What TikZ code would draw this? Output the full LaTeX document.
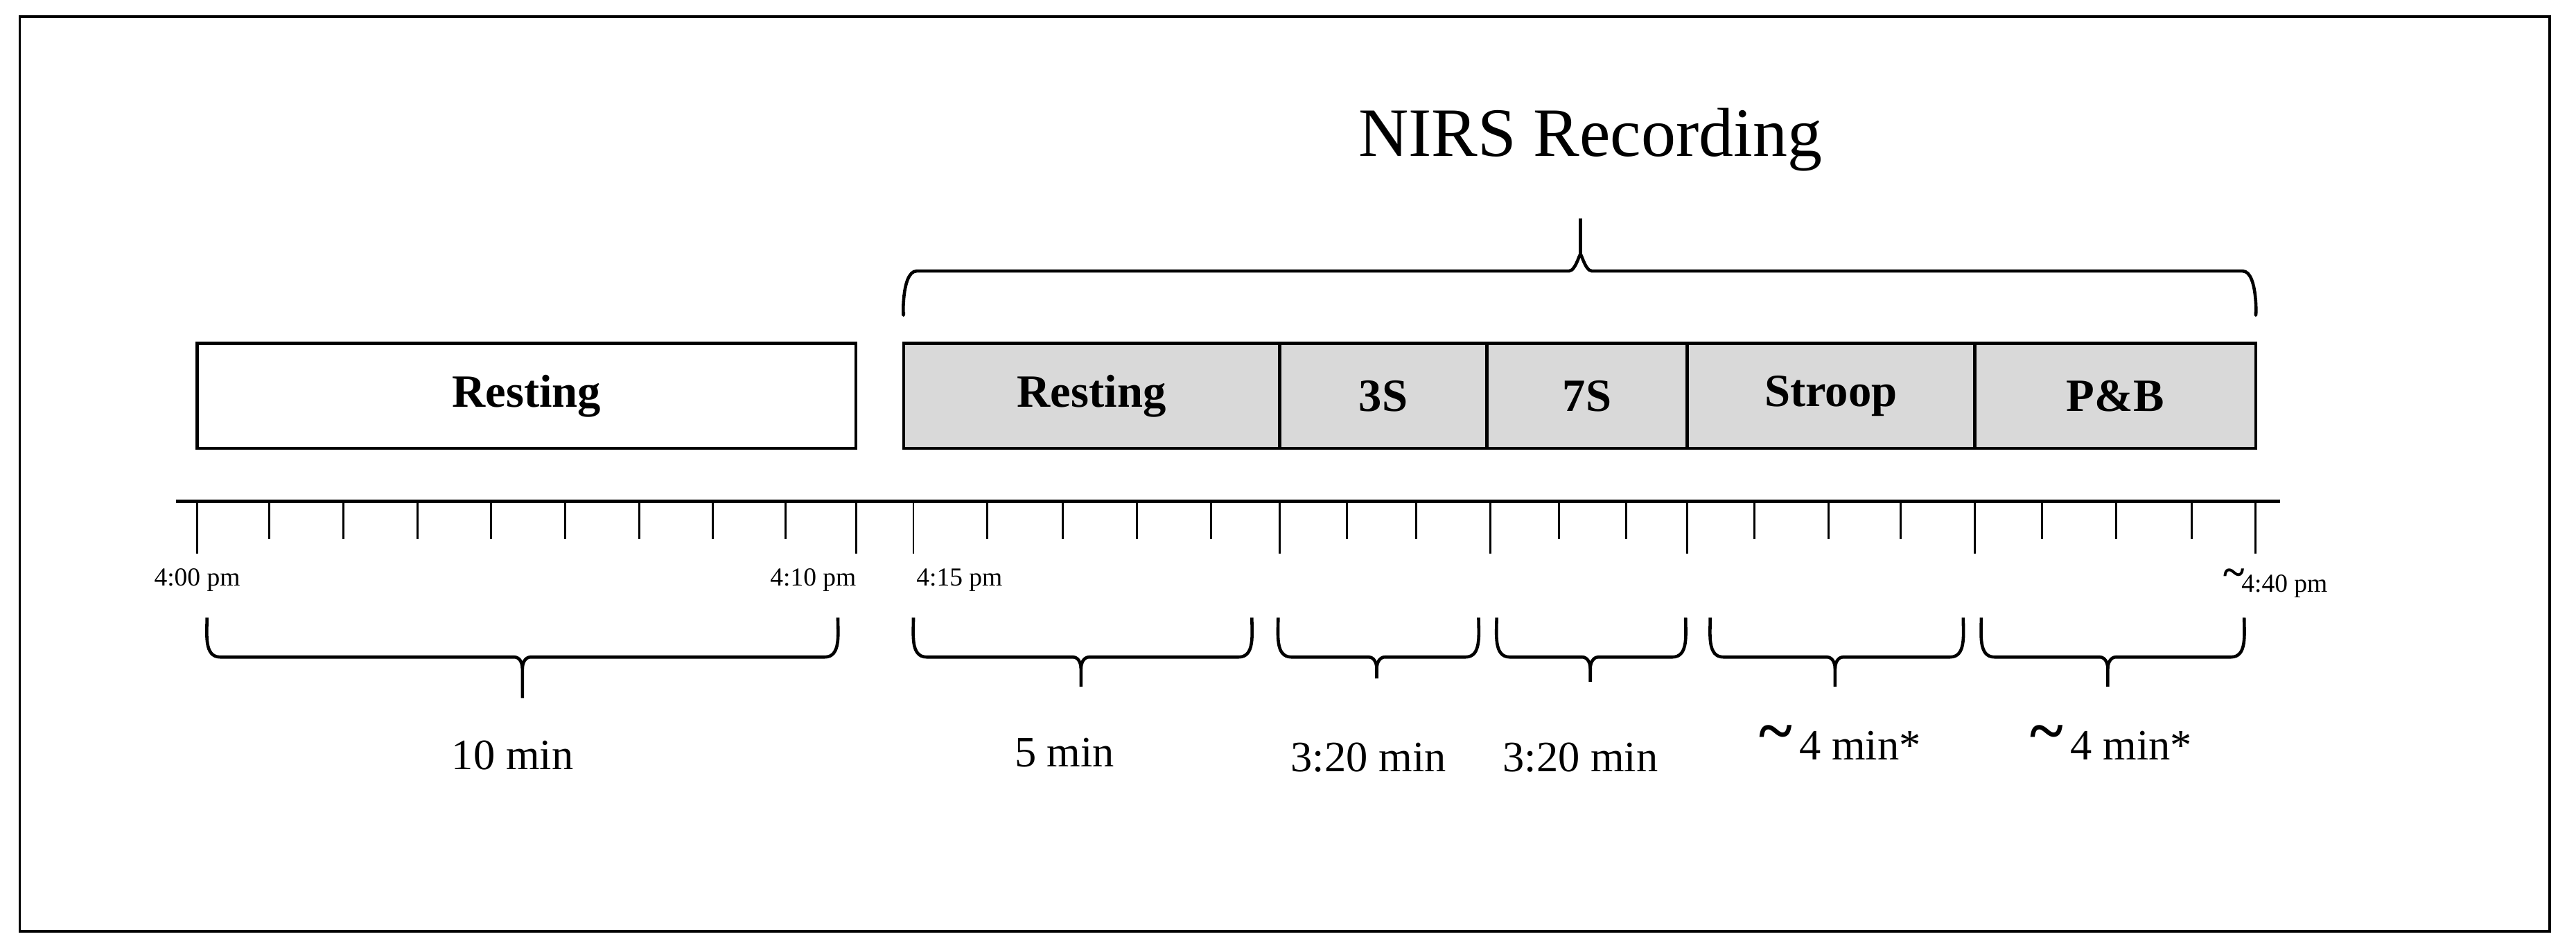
\documentclass[tikz,border=0pt]{standalone}
\usepackage{fontspec}
\setmainfont{Liberation Serif}
\begin{document}
\begin{tikzpicture}[x=0.02cm,y=-0.02cm,
  box/.style={draw,line width=1.1pt,minimum height=64*0.02cm,inner sep=0pt,font=\fontsize{16}{18}\selectfont\bfseries},
  gbox/.style={box,fill=gray!30},
  tl/.style={font=\fontsize{9}{10}\selectfont},
  dur/.style={font=\fontsize{15}{17}\selectfont},
  brc/.style={line width=1.1pt,line join=round},
  tk/.style={line width=0.7pt}]
\useasboundingbox (0,0) rectangle (1568,578);
\draw[line width=0.9pt] (12,10) rectangle (1552,567);
% title
\node[font=\fontsize{24}{28}\selectfont] (title) at (968,85) {NIRS Recording};
% top brace
\draw[brc] (550,190) to[out=-90,in=180] (558,165) -- (955,165) to[out=0,in=90] (962,156) -- (962,133);
\draw[brc] (1373,190) to[out=-90,in=0] (1365,165) -- (969,165) to[out=180,in=90] (962,156);
% boxes
\node[box,minimum width=401*0.02cm] (r0) at (320.5,241) {Resting};
\node[gbox,minimum width=229*0.02cm] (r1) at (664.5,241) {Resting};
\node[gbox,minimum width=126*0.02cm] (s3) at (842,241) {3S};
\node[gbox,minimum width=122*0.02cm] (s7) at (966,241) {7S};
\node[gbox,minimum width=175*0.02cm] (st) at (1114.5,241) {Stroop};
\node[gbox,minimum width=171*0.02cm] (pb) at (1287.5,241) {P\&B};
% axis
\draw[line width=1.2pt] (107,305) -- (1388,305);
\foreach \x in {120,521,556,779,907,1027,1202,1373} \draw[tk] (\x,305) -- (\x,337);
\foreach \x in {164,209,254,299,344,389,434,478,601,647,692,737,820,862,949,990,1068,1113,1157,1243,1288,1334} \draw[tk] (\x,305) -- (\x,328);
% time labels
\node[tl] (t0) at (120,353) {4:00 pm};
\node[tl] (t1) at (495,353) {4:10 pm};
\node[tl] (t2) at (584,353) {4:15 pm};
\node[tl] (t3) at (1385,355) {\raisebox{0.5ex}{\fontsize{14}{14}\selectfont\bfseries\textasciitilde}\kern-1pt4:40 pm};
% lower braces
\foreach \a/\b/\m/\e in {126/510/318/425, 556/762/658/418, 778/900/838/413, 911/1026/968/415, 1041/1195/1117/418, 1206/1366/1283/418}{
  \draw[brc] (\a,376) to[out=-90,in=180] (\a+8,400) -- (\m-5,400) to[out=0,in=90] (\m,407) -- (\m,\e);
  \draw[brc] (\b,376) to[out=-90,in=0] (\b-8,400) -- (\m+5,400) to[out=180,in=90] (\m,407);
}
\node[dur] (d0) at (312,460) {10 min};
\node[dur] (d1) at (648,458) {5 min};
\node[dur] (d2) at (833,461) {3:20 min};
\node[dur] (d3) at (962,461) {3:20 min};
\node[dur] (d4) at (1120,452) {\raisebox{0.4ex}{\fontsize{22}{22}\selectfont\bfseries\textasciitilde}\,4 min*};
\node[dur] (d5) at (1285,452) {\raisebox{0.4ex}{\fontsize{22}{22}\selectfont\bfseries\textasciitilde}\,4 min*};
\end{tikzpicture}
\end{document}
